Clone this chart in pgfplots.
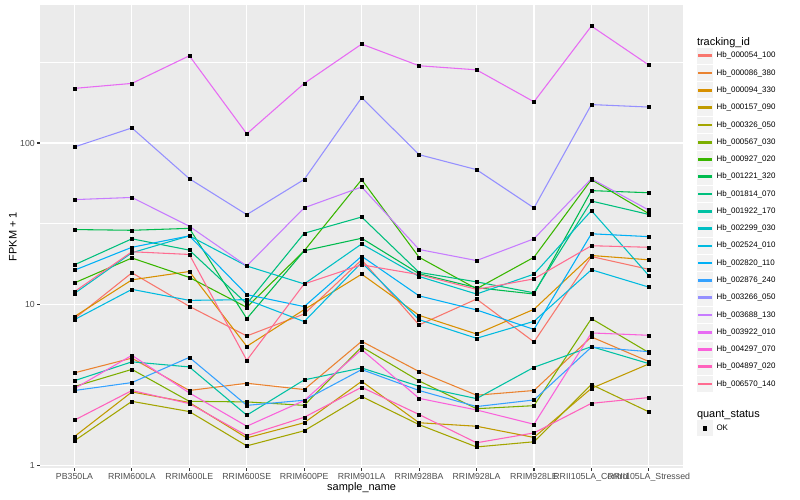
\documentclass[border=0pt]{standalone}
\usepackage{fontspec}
\setmainfont{Liberation Sans}
\usepackage{pgfplots}
\usepackage{pgfplotstable}
\pgfplotsset{compat=1.18}
\definecolor{c1}{HTML}{F8766D}
\definecolor{c2}{HTML}{EA8331}
\definecolor{c3}{HTML}{D89000}
\definecolor{c4}{HTML}{C09B00}
\definecolor{c5}{HTML}{A3A500}
\definecolor{c6}{HTML}{7CAE00}
\definecolor{c7}{HTML}{39B600}
\definecolor{c8}{HTML}{00BB4E}
\definecolor{c9}{HTML}{00BF7D}
\definecolor{c10}{HTML}{00C1A3}
\definecolor{c11}{HTML}{00BFC4}
\definecolor{c12}{HTML}{00BAE0}
\definecolor{c13}{HTML}{00B0F6}
\definecolor{c14}{HTML}{35A2FF}
\definecolor{c15}{HTML}{9590FF}
\definecolor{c16}{HTML}{C77CFF}
\definecolor{c17}{HTML}{E76BF3}
\definecolor{c18}{HTML}{FA62DB}
\definecolor{c19}{HTML}{FF62BC}
\definecolor{c20}{HTML}{FF6C91}
\definecolor{panelbg}{HTML}{EBEBEB}
\definecolor{keybg}{HTML}{F2F2F2}
\definecolor{tickcol}{HTML}{333333}
\definecolor{ticklab}{HTML}{4D4D4D}

\pgfplotstableread{
x s1 s2 s3 s4 s5 s6 s7 s8 s9 s10 s11 s12 s13 s14 s15 s16 s17 s18 s19 s20
0 8.17 3.77 8.41 1.52 1.43 3.10 13.6 29.1 17.6 3.37 11.7 8.05 16.3 2.93 94.5 44.6 218 3.01 1.92 12.0
1 15.7 4.65 14.2 2.87 2.51 3.96 19.4 28.8 25.5 4.41 20.9 12.4 22.6 3.28 124 46.0 234 4.84 2.93 21.2
2 9.73 2.93 16.0 2.47 2.17 2.51 14.7 29.6 21.7 4.10 26.6 10.6 26.6 4.70 60.1 30.5 347 2.83 2.43 20.4
3 6.38 3.25 5.50 1.49 1.33 2.49 9.6 8.17 10.1 2.06 17.3 10.7 11.5 2.37 36.0 17.3 114 1.76 1.54 4.51
4 8.73 2.97 9.29 1.85 1.65 2.37 21.5 21.5 27.6 3.41 13.4 7.83 9.7 2.55 59.5 39.7 234 2.54 2.00 13.4
5 18.9 5.91 15.4 3.34 2.69 5.46 59.3 25.7 34.8 4.04 23.7 18.2 19.9 3.95 191 53.4 410 5.25 3.07 17.6
6 7.47 3.84 8.56 1.85 1.80 3.36 19.6 15.5 15.8 3.11 14.9 8.05 11.3 2.93 84.7 21.9 301 2.62 2.08 15.3
7 10.8 2.74 6.56 1.76 1.31 2.26 12.5 12.7 13.8 2.61 11.6 6.17 9.25 2.33 68.4 18.7 284 2.22 1.39 12.4
8 5.86 2.93 9.33 1.50 1.41 2.36 19.6 11.6 11.8 4.08 15.4 7.86 7.0 2.56 39.6 25.5 180 1.81 1.60 14.4
9 19.8 6.29 20.1 3.02 3.19 8.17 59.3 50.7 43.7 5.48 38.1 16.4 27.4 5.44 173 60.1 530 6.66 2.44 23.1
10 16.5 4.43 18.9 4.28 2.16 5.03 36.5 49.2 36.1 4.30 15.1 12.8 26.3 5.10 167 38.4 304 6.44 2.65 22.6
}\datatable

\pgfplotsset{
  legstyle/.style={
    legend style={
      anchor=north west,
      draw=none, fill=none, inner sep=0pt, outer sep=0pt,
      row sep=1.28bp, column sep=3.5bp,
      font=\fontsize{8}{9.6}\selectfont,
      nodes={inner sep=0pt, text=black},
    },
    legend cell align=left,
  }
}

\begin{document}
\begin{tikzpicture}
\begin{axis}[
  scale only axis, width=643.3bp, height=463bp,
  ymode=log, ymin=0.97, ymax=716,
  xmin=-0.6, xmax=10.6,
  xtick={0,...,10},
  xticklabels={PB350LA,RRIM600LA,RRIM600LE,RRIM600SE,RRIM600PE,RRIM901LA,RRIM928BA,RRIM928LA,RRIM928LE,RRII105LA\_Control,RRII105LA\_Stressed},
  ytick={1,10,100}, yticklabels={1,10,100},
  minor ytick={3.1623,31.623,316.23},
  xtick pos=bottom, ytick pos=left,
  tick align=outside,
  major tick length=2.75bp, minor tick length=0pt,
  tick style={tickcol, line width=1.07bp},
  grid=both,
  major grid style={white, line width=1.07bp},
  minor grid style={white, line width=0.53bp},
  axis line style={draw=none},
  axis background/.style={fill=panelbg},
  tick label style={font=\fontsize{8.8}{10}\selectfont, text=ticklab},
  xticklabel style={inner sep=0pt, yshift=-2.2bp},
  yticklabel style={inner sep=0pt, xshift=-2.2bp},
  /pgf/number format/assume math mode=true,
  xlabel={sample\_name}, ylabel={FPKM + 1},
  label style={font=\fontsize{11}{13}\selectfont},
  xlabel style={at={(axis description cs:0.5,-0.043)}, anchor=center, inner sep=0pt},
  ylabel style={at={(axis description cs:-0.042,0.5)}, anchor=center, inner sep=0pt},
  legstyle,
  legend style={at={(axis description cs:1.0213,0.9309)}},
  legend image code/.code={
    \path[fill=keybg, draw=none] (0bp,-8bp) rectangle (16bp,8bp);
    \fill[#1] (1.5bp,-0.8bp) rectangle (14.5bp,0.8bp);
  },
  legend entries={{\hspace*{-19.5bp}\fontsize{11}{13}\selectfont tracking\_id\rule[-5.6bp]{0pt}{13.6bp}},
    Hb\_000054\_100,Hb\_000086\_380,Hb\_000094\_330,Hb\_000157\_090,Hb\_000326\_050,
    Hb\_000567\_030,Hb\_000927\_020,Hb\_001221\_320,Hb\_001814\_070,Hb\_001922\_170,
    Hb\_002299\_030,Hb\_002524\_010,Hb\_002820\_110,Hb\_002876\_240,Hb\_003266\_050,
    Hb\_003688\_130,Hb\_003922\_010,Hb\_004297\_070,Hb\_004897\_020,Hb\_006570\_140},
]
\addlegendimage{empty legend}
\pgfplotsinvokeforeach{1,...,20}{
  \addplot[color=c#1, line width=1.07bp, mark=none] table[x=x, y=s#1] {\datatable};
}
\pgfplotsinvokeforeach{1,...,20}{
  \addplot[forget plot, only marks, mark=square*, mark size=1.5bp, black] table[x=x, y=s#1] {\datatable};
}
\end{axis}
\begin{axis}[
  scale only axis, width=643.3bp, height=463bp,
  hide axis, xmin=0, xmax=1, ymin=0, ymax=1,
  legstyle,
  legend style={at={(axis description cs:1.0213,0.1264)}},
  legend entries={{\hspace*{-19.5bp}\fontsize{11}{13}\selectfont quant\_status\rule[-5.6bp]{0pt}{13.6bp}}, OK},
]
\addlegendimage{empty legend}
\addlegendimage{legend image code/.code={
    \path[fill=keybg, draw=none] (0bp,-8bp) rectangle (16bp,8bp);
    \path[fill=black] (6.35bp,-1.65bp) rectangle (9.65bp,1.65bp);
  }}
\addplot[draw=none, forget plot] coordinates {(0.5,0.5)};
\end{axis}
\pgfresetboundingbox
\path[use as bounding box] (-40bp,-32bp) rectangle (760bp,468bp);
\end{tikzpicture}
\end{document}
